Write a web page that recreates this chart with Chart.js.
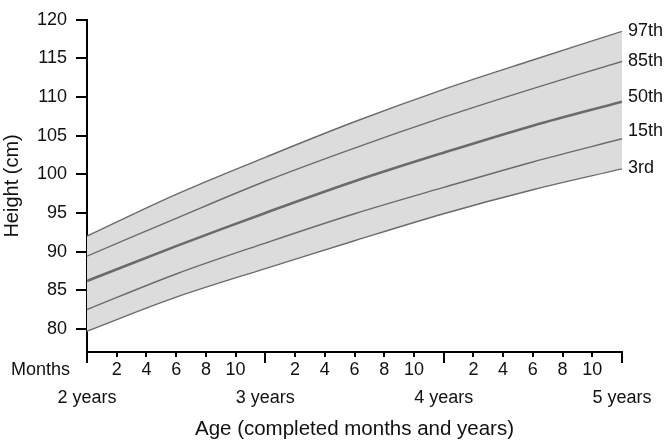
<!DOCTYPE html>
<html>
<head>
<meta charset="utf-8">
<script src="https://cdn.jsdelivr.net/npm/chart.js@4"></script>
<style>
  html, body { margin: 0; padding: 0; background: #fff; }
</style>
</head>
<body>
<canvas id="myChart" width="669" height="445"></canvas>
<script>
// age in completed months, centile heights in cm
const ages = [24, 30, 36, 42, 48, 54, 60];
const p3  = [79.7, 84.1, 87.8, 91.4, 94.9, 98.0, 100.7];
const p15 = [82.5, 87.1, 91.1, 94.9, 98.3, 101.6, 104.6];
const p50 = [86.2, 90.7, 95.0, 99.1, 102.8, 106.3, 109.4];
const p85 = [89.4, 94.3, 99.1, 103.4, 107.4, 111.1, 114.6];
const p97 = [92.0, 97.4, 102.2, 106.8, 111.0, 114.8, 118.5];

const centileNames = ['3rd', '15th', '50th', '85th', '97th'];
const nameHeights = [100.8, 105.6, 110.0, 114.7, 118.5]; // where the names sit on the right

const yTicks = [80, 85, 90, 95, 100, 105, 110, 115, 120];
const monthTicks = [24, 26, 28, 30, 32, 34, 36, 38, 40, 42, 44, 46, 48, 50, 52, 54, 56, 58, 60];
const monthLabels = ['2', '4', '6', '8', '10'];
const yearLabels = ['2 years', '3 years', '4 years', '5 years'];

const FONT = '"Liberation Sans", Arial, sans-serif';
const lineColor = '#6b6b6b';

const extras = {
    id: 'extras',
    afterDraw(chart) {
        const {ctx, chartArea, scales: {x, y}} = chart;
        ctx.save();
        // tick marks under the x axis, long ones at whole years
        ctx.strokeStyle = '#000';
        ctx.lineWidth = 2;
        monthTicks.forEach(m => {
            const px = Math.round(x.getPixelForValue(m));
            const len = m % 12 === 0 ? 11 : 5;
            ctx.beginPath();
            ctx.moveTo(px, chartArea.bottom);
            ctx.lineTo(px, chartArea.bottom + len);
            ctx.stroke();
        });
        ctx.fillStyle = '#111';
        ctx.font = '18px ' + FONT;
        ctx.textBaseline = 'middle';
        ctx.textAlign = 'left';
        centileNames.forEach((n, i) => {
            ctx.fillText(n, chartArea.right + 6, y.getPixelForValue(nameHeights[i]));
        });
        ctx.textAlign = 'right';
        ctx.fillText('Months', chartArea.left - 17, chartArea.bottom + 18);
        ctx.restore();
    }
};

const series = [p3, p15, p50, p85, p97];
const datasets = series.map((s, i) => ({
    label: centileNames[i],
    data: ages.map((a, j) => ({x: a, y: s[j]})),
    borderColor: lineColor,
    borderWidth: i === 2 ? 2.6 : 1.4,
    pointRadius: 0,
    tension: 0.35,
    fill: i === 4 ? 0 : false,
    backgroundColor: '#dcdcdc'
}));

new Chart(document.getElementById('myChart'), {
    type: 'line',
    data: { datasets },
    options: {
        responsive: false,
        animation: false,
        layout: { padding: { top: 11, right: 47, left: 0, bottom: 0 } },
        plugins: {
            legend: { display: false },
            tooltip: { enabled: false },
            filler: { drawTime: 'beforeDatasetsDraw' }
        },
        scales: {
            x: {
                type: 'linear',
                min: 24,
                max: 60,
                afterBuildTicks: (scale) => { scale.ticks = monthTicks.map(v => ({value: v})); },
                afterFit: (scale) => { scale.height = 93; },
                grid: { display: false, drawTicks: false },
                border: { display: true, color: '#000', width: 2 },
                ticks: {
                    autoSkip: false,
                    maxRotation: 0,
                    padding: 4,
                    color: '#111',
                    font: { family: FONT, size: 18, lineHeight: '28px' },
                    callback: (v) => v % 12 === 0 ? ['', yearLabels[v / 12 - 2]] : monthLabels[(v % 12) / 2 - 1]
                },
                title: {
                    display: true,
                    text: 'Age (completed months and years)',
                    color: '#111',
                    font: { family: FONT, size: 20.5, lineHeight: 1.2 },
                    padding: { top: 0, bottom: 3 }
                }
            },
            y: {
                min: 77,
                max: 120,
                afterBuildTicks: (scale) => { scale.ticks = yTicks.map(v => ({value: v})); },
                afterFit: (scale) => { scale.width = 87; },
                grid: { drawOnChartArea: false, drawTicks: true, tickLength: 11, color: '#000', lineWidth: 2 },
                border: { display: true, color: '#000', width: 2 },
                ticks: {
                    padding: 9,
                    color: '#111',
                    font: { family: FONT, size: 18 }
                },
                title: {
                    display: true,
                    text: 'Height (cm)',
                    color: '#111',
                    font: { family: FONT, size: 20, lineHeight: 1.2 },
                    padding: { top: 0, bottom: 0 }
                }
            }
        }
    },
    plugins: [extras]
});
</script>
</body>
</html>
